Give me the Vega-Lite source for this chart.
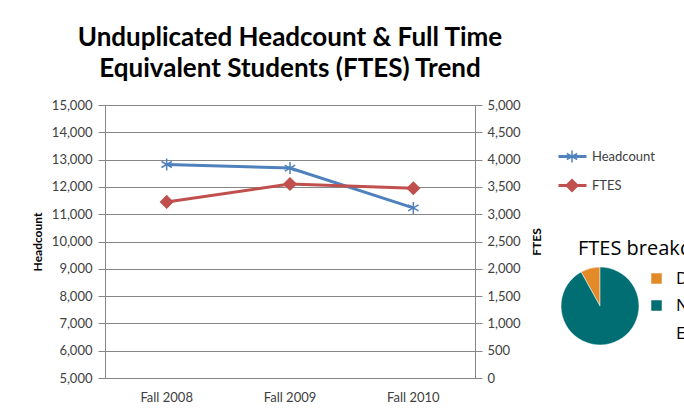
{
  "$schema": "https://vega.github.io/schema/vega-lite/v6.json",
  "background": "white",
  "padding": {"left": 31, "top": 25, "right": 0, "bottom": 0},
  "bounds": "flush",
  "spacing": 85,
  "resolve": {"scale": {"color": "independent"}, "legend": {"color": "independent"}},
  "config": {
    "view": {"stroke": null},
    "font": "Lato",
    "style": {"guide-label": {"lineHeight": 28}},
    "axis": {
      "labelFont": "Lato", "labelFontSize": 13, "labelColor": "#404040",
      "titleFont": "Lato", "titleFontSize": 12, "titleFontWeight": "bold", "titleColor": "#000000",
      "domainColor": "#868686", "tickColor": "#868686", "gridColor": "#868686"
    }
  },
  "datasets": {
    "trend": [
      {"period": "Fall 2008", "series": "Headcount", "value": 12820},
      {"period": "Fall 2009", "series": "Headcount", "value": 12690},
      {"period": "Fall 2010", "series": "Headcount", "value": 11230},
      {"period": "Fall 2008", "series": "FTES", "value": 3225},
      {"period": "Fall 2009", "series": "FTES", "value": 3553},
      {"period": "Fall 2010", "series": "FTES", "value": 3475}
    ],
    "breakdown": [
      {"category": "Distance Education", "value": 280},
      {"category": "Non-Distance Education", "value": 3195}
    ]
  },
  "hconcat": [
    {
      "title": {
        "text": ["Unduplicated Headcount & Full Time", "Equivalent Students (FTES) Trend"],
        "font": "Lato", "fontSize": 26, "fontWeight": "bold", "color": "#000000",
        "anchor": "middle", "lineHeight": 31, "offset": 17
      },
      "width": 370,
      "height": 273,
      "data": {"name": "trend"},
      "encoding": {
        "x": {
          "field": "period", "type": "nominal", "title": null,
          "scale": {"type": "band", "paddingInner": 0, "paddingOuter": 0},
          "axis": {"labelAngle": 0, "ticks": false, "tickSize": 0, "labelPadding": 13, "domainColor": "#868686"}
        }
      },
      "layer": [
        {
          "transform": [{"filter": "datum.series == 'Headcount'"}],
          "encoding": {
            "y": {
              "field": "value", "type": "quantitative", "title": "Headcount",
              "scale": {"domain": [5000, 15000], "nice": false, "zero": false},
              "axis": {"values": [5000, 6000, 7000, 8000, 9000, 10000, 11000, 12000, 13000, 14000, 15000], "format": ",.0f", "tickSize": 7, "labelPadding": 6, "titlePadding": 7, "grid": true, "orient": "left"}
            }
          },
          "layer": [
            {"mark": {"type": "line", "strokeWidth": 3}, "encoding": {
              "color": {"field": "series", "type": "nominal", "scale": {"domain": ["Headcount", "FTES"], "range": ["#4F81BD", "#C0504D"]},
                "legend": {"orient": "none", "legendX": 452, "legendY": 37, "title": null, "symbolType": "stroke", "symbolSize": 784, "symbolStrokeWidth": 3, "clipHeight": 29, "rowPadding": 0, "padding": 0, "labelOffset": 4, "labelFont": "Lato", "labelFontSize": 13, "labelColor": "#404040"}}
            }},
            {"mark": {"type": "point", "strokeWidth": 1.5, "opacity": 1, "size": 144}, "encoding": {
              "shape": {"field": "series", "type": "nominal", "scale": {"domain": ["Headcount", "FTES"], "range": ["M0,-1L0,1M-0.87,-0.5L0.87,0.5M-0.87,0.5L0.87,-0.5", "diamond"]},
                "legend": {"orient": "none", "legendX": 460, "legendY": 37, "title": null, "symbolSize": 144, "symbolStrokeWidth": 1.5, "clipHeight": 29, "rowPadding": 0, "padding": 0, "labelOpacity": 0, "labelFontSize": 13}},
              "fill": {"field": "series", "type": "nominal", "scale": {"domain": ["Headcount", "FTES"], "range": ["transparent", "#C0504D"]},
                "legend": {"orient": "none", "legendX": 460, "legendY": 37, "title": null, "symbolSize": 144, "symbolStrokeWidth": 1.5, "clipHeight": 29, "rowPadding": 0, "padding": 0, "labelOpacity": 0, "labelFontSize": 13}},
              "stroke": {"field": "series", "type": "nominal", "scale": {"domain": ["Headcount", "FTES"], "range": ["#4F81BD", "#C0504D"]},
                "legend": {"orient": "none", "legendX": 460, "legendY": 37, "title": null, "symbolSize": 144, "symbolStrokeWidth": 1.5, "clipHeight": 29, "rowPadding": 0, "padding": 0, "labelOpacity": 0, "labelFontSize": 13}}
            }}
          ]
        },
        {
          "transform": [{"filter": "datum.series == 'FTES'"}],
          "encoding": {
            "y": {
              "field": "value", "type": "quantitative", "title": "FTES",
              "scale": {"domain": [0, 5000], "nice": false},
              "axis": {"values": [0, 500, 1000, 1500, 2000, 2500, 3000, 3500, 4000, 4500, 5000], "format": ",.0f", "tickSize": 7, "labelPadding": 5, "titlePadding": 23, "titleAngle": 270, "grid": false, "orient": "right"}
            }
          },
          "layer": [
            {"mark": {"type": "line", "strokeWidth": 3}, "encoding": {
              "color": {"field": "series", "type": "nominal", "scale": {"domain": ["Headcount", "FTES"], "range": ["#4F81BD", "#C0504D"]}}
            }},
            {"mark": {"type": "point", "strokeWidth": 1.5, "opacity": 1, "size": 144}, "encoding": {
              "shape": {"field": "series", "type": "nominal"},
              "fill": {"field": "series", "type": "nominal"},
              "stroke": {"field": "series", "type": "nominal"}
            }}
          ]
        }
      ],
      "resolve": {"scale": {"y": "independent"}, "axis": {"y": "independent"}}
    },
    {
      "title": {"text": "FTES breakdown", "font": "Open Sans", "fontSize": 20, "fontWeight": "normal", "color": "#000000", "anchor": "start", "dx": 18, "dy": 158},
      "width": 80,
      "height": 402,
      "data": {"name": "breakdown"},
      "mark": {"type": "arc", "outerRadius": 39, "stroke": "white", "strokeWidth": 0.5},
      "encoding": {
        "theta": {"field": "value", "type": "quantitative", "stack": true},
        "order": {"field": "category", "sort": "descending"},
        "color": {
          "field": "category", "type": "nominal",
          "scale": {"domain": ["Distance Education", "Non-Distance Education"], "range": ["#E38A28", "#006E72"]},
          "legend": {"orient": "none", "legendX": 88, "legendY": 165, "title": null, "symbolType": "square", "symbolSize": 144, "rowPadding": 8, "padding": 0, "labelFont": "Open Sans", "labelFontSize": 17, "labelColor": "#000000", "labelOffset": 11,
            "labelExpr": "datum.label == 'Non-Distance Education' ? ['Non-Distance', 'Education'] : datum.label"}
        }
      }
    }
  ]
}
